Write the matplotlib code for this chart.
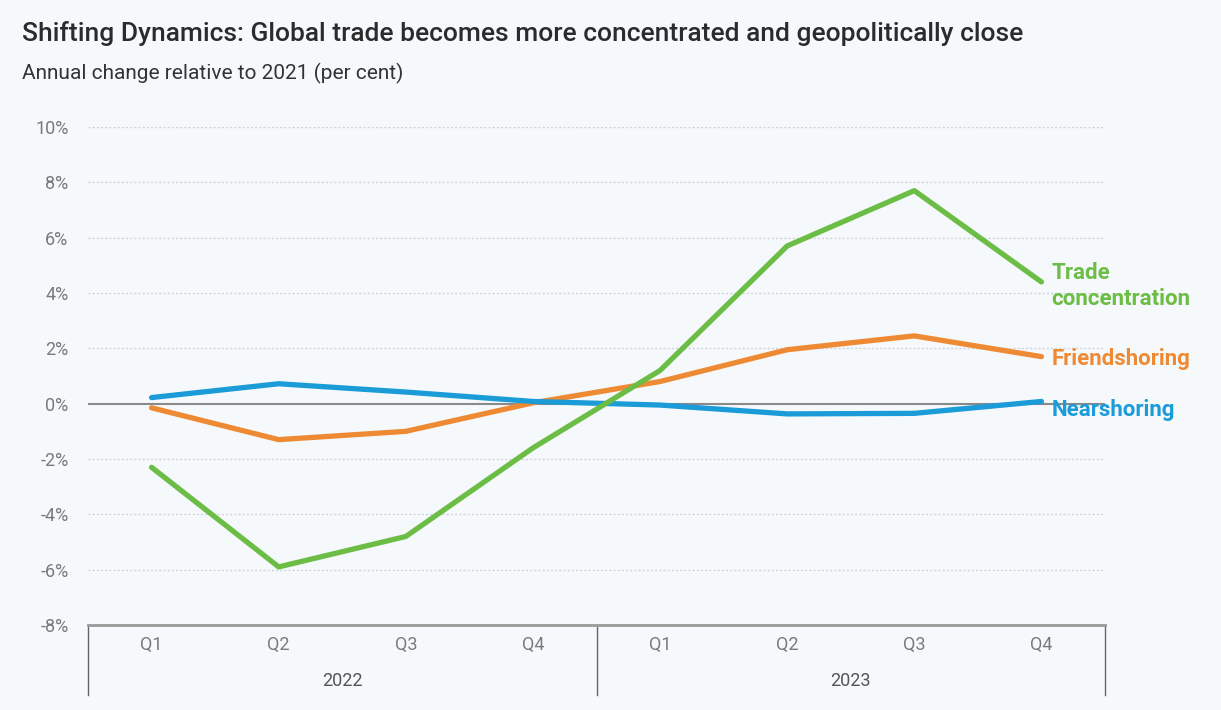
import matplotlib
matplotlib.use("Agg")
import matplotlib.pyplot as plt
from matplotlib import font_manager

quarters = ["Q1", "Q2", "Q3", "Q4", "Q1", "Q2", "Q3", "Q4"]
years = ["2022", "2023"]
trade_concentration = [-2.3, -5.9, -4.8, -1.6, 1.2, 5.7, 7.7, 4.4]
friendshoring = [-0.15, -1.3, -1.0, 0.03, 0.8, 1.95, 2.45, 1.7]
nearshoring = [0.22, 0.72, 0.42, 0.08, -0.05, -0.37, -0.35, 0.08]
y_ticks = [-8, -6, -4, -2, 0, 2, 4, 6, 8, 10]

names = {f.name for f in font_manager.fontManager.ttflist}
narrow = "Liberation Sans Narrow" if "Liberation Sans Narrow" in names else "Roboto"
FAM = [narrow, "DejaVu Sans"]

GREEN = "#6cbd45"
ORANGE = "#ef8a34"
BLUE = "#1b9bd7"
BG = "#f5f9fc"

fig = plt.figure(figsize=(12.21, 7.10), dpi=100, facecolor=BG)
ax = fig.add_axes([88/1221, 1-625/710, (1105-88)/1221, (625-127)/710])
ax.set_facecolor(BG)

x = list(range(len(quarters)))
ax.set_xlim(-0.5, len(quarters)-0.5)
ax.set_ylim(-8, 10)

for yv in y_ticks:
    if yv == 0:
        ax.axhline(0, color="#8a8a8a", lw=1.5, zorder=2)
    elif yv != -8:
        ax.axhline(yv, color="#cfd3d8", lw=1.0, ls=(0, (1.5, 1.5)), zorder=1)

ax.plot(x, trade_concentration, color=GREEN, lw=3.8, zorder=4, solid_capstyle="round")
ax.plot(x, friendshoring, color=ORANGE, lw=3.8, zorder=3, solid_capstyle="round")
ax.plot(x, nearshoring, color=BLUE, lw=3.8, zorder=3, solid_capstyle="round")

for s in ["top", "right", "left"]:
    ax.spines[s].set_visible(False)
ax.spines["bottom"].set_color("#9a9a9a")
ax.spines["bottom"].set_linewidth(2)

ax.set_yticks(y_ticks)
ax.set_yticklabels([f"{v}%" for v in y_ticks], fontfamily=FAM, fontsize=13, color="#7a7a7a")
ax.tick_params(axis="y", length=0, pad=14)
ax.set_xticks(x)
ax.set_xticklabels(quarters, fontfamily=FAM, fontsize=13, color="#7a7a7a")
ax.tick_params(axis="x", length=0, pad=8)

# year group labels and separators
trans = ax.get_xaxis_transform()
for i, yr in enumerate(years):
    ax.text(i*4 + 1.5, -0.113, yr, transform=trans, ha="center", va="center",
            fontfamily=FAM, fontsize=13, color="#555555", clip_on=False)
for xb in [-0.5, 3.5, 7.5]:
    ax.plot([xb, xb], [0, -0.14], transform=trans, color="#666666", lw=1.0, clip_on=False)

# series labels
lab_kw = dict(fontfamily=FAM, fontsize=16, fontweight="bold", va="center", ha="left",
              textcoords="offset points", annotation_clip=False)
ax.annotate("Trade\nconcentration", xy=(7, trade_concentration[-1]), xytext=(7, -3),
            color=GREEN, linespacing=1.2, **lab_kw)
ax.annotate("Friendshoring", xy=(7, friendshoring[-1]), xytext=(7, -1.5), color=ORANGE, **lab_kw)
ax.annotate("Nearshoring", xy=(7, nearshoring[-1]), xytext=(7, -6), color=BLUE, **lab_kw)

fig.text(22/1221, 1-33/710, "Shifting Dynamics: Global trade becomes more concentrated and geopolitically close",
         fontfamily=FAM, fontsize=19, fontweight="medium", color="#2b2b2b", va="center", ha="left")
fig.text(22/1221, 1-73/710, "Annual change relative to 2021 (per cent)",
         fontfamily=FAM, fontsize=15, color="#333333", va="center", ha="left")

fig.savefig("out.png", dpi=100, facecolor=BG)
